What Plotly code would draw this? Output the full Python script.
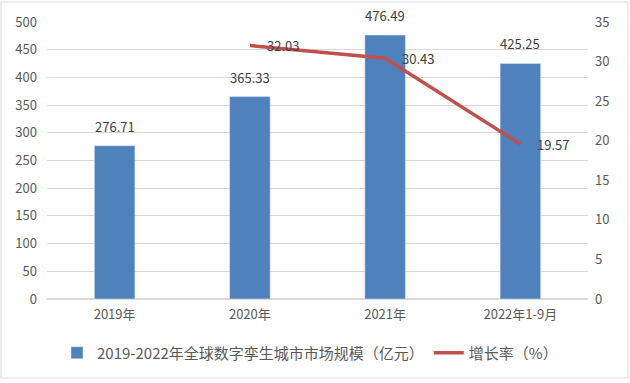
import plotly.graph_objects as go

categories = ["2019年", "2020年", "2021年", "2022年1-9月"]
market_size = [276.71, 365.33, 476.49, 425.25]
growth_cats = ["2020年", "2021年", "2022年1-9月"]
growth_rate = [32.03, 30.43, 19.57]
left_ticks = [0, 50, 100, 150, 200, 250, 300, 350, 400, 450, 500]
right_ticks = [0, 5, 10, 15, 20, 25, 30, 35]

FONT = "Noto Sans CJK SC"
W, H = 630, 383
L, R, T, B = 47, 42, 22, 84
pw, ph = W - L - R, H - T - B

fig = go.Figure()
fig.add_trace(go.Bar(
    x=categories, y=market_size, name="2019-2022年全球数字孪生城市市场规模（亿元）",
    marker_color="#4F81BD", width=0.30,
))
fig.add_trace(go.Scatter(
    x=growth_cats, y=growth_rate, name="增长率（%）", yaxis="y2",
    mode="lines", line=dict(color="#C0504D", width=3.5),
))

annotations = [
    dict(x=c, y=v, xref="x", yref="y", text=f"{v:.2f}", showarrow=False,
         xanchor="center", yanchor="bottom", yshift=8,
         font=dict(size=13, color="#404040", family=FONT))
    for c, v in zip(categories, market_size)
] + [
    dict(x=c, y=v, xref="x", yref="y2", text=f"{v:.2f}", showarrow=False,
         xanchor="left", yanchor="middle", xshift=15,
         font=dict(size=13, color="#404040", family=FONT))
    for c, v in zip(growth_cats, growth_rate)
]

fig.update_layout(
    width=W, height=H, margin=dict(l=L, r=R, t=T, b=B),
    paper_bgcolor="white", plot_bgcolor="white",
    font=dict(family=FONT, size=13, color="#595959"),
    xaxis=dict(showgrid=False, showline=False, ticks="", ticklabelstandoff=6,
               tickfont=dict(size=13, color="#595959")),
    yaxis=dict(range=[0, 500], tickvals=left_ticks, showgrid=True, gridcolor="#D9D9D9",
               zeroline=True, zerolinecolor="#D9D9D9", ticks="", ticklabelstandoff=9,
               tickfont=dict(size=13, color="#595959")),
    yaxis2=dict(range=[0, 35], tickvals=right_ticks, overlaying="y", side="right", showgrid=False,
                zeroline=False, ticks="", ticklabelstandoff=6,
                tickfont=dict(size=13, color="#595959")),
    legend=dict(orientation="h", x=(57 - L) / pw, xanchor="left", y=(H - B - 353) / ph, yanchor="middle",
                font=dict(size=15, color="#595959"), traceorder="normal",
                bgcolor="rgba(0,0,0,0)"),
    showlegend=True,
    annotations=annotations,
    shapes=[dict(type="rect", xref="paper", yref="paper",
                 x0=(1 - L) / pw, x1=(628 - L) / pw,
                 y0=(H - B - 378) / ph, y1=(H - B - 2) / ph,
                 line=dict(color="#D9D9D9", width=1), fillcolor="rgba(0,0,0,0)", layer="below")],
)
fig.write_html("out.html", config={"displayModeBar": False},
               post_script="document.body.style.margin='0';")
